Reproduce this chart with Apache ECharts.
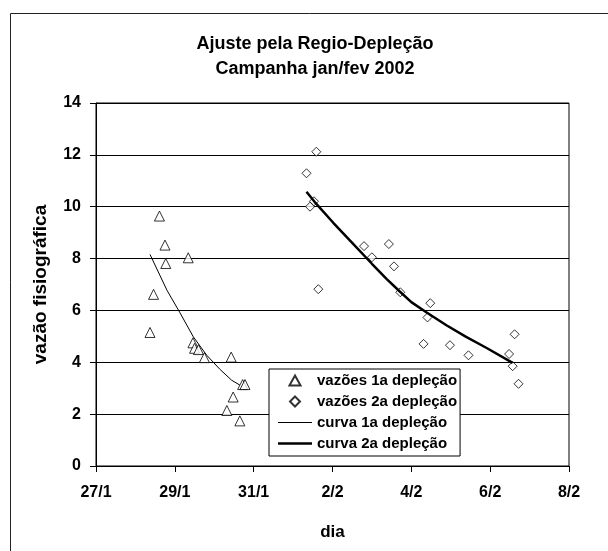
<!DOCTYPE html>
<html>
<head>
<meta charset="utf-8">
<script src="https://cdn.jsdelivr.net/npm/echarts@6/dist/echarts.min.js"></script>
<style>
  html, body { margin: 0; padding: 0; background: #fff; }
  #chart { width: 608px; height: 551px; }
</style>
</head>
<body>
<div id="chart"></div>
<script>
// dias contados a partir de 27/1
const dayLabels = ['27/1', '29/1', '31/1', '2/2', '4/2', '6/2', '8/2']

// vazões observadas 1a depleção [dia, vazão]
const vazoes1 = [
  [1.37, 5.15], [1.46, 6.62], [1.61, 9.64], [1.75, 8.52], [1.77, 7.81],
  [2.34, 8.03], [2.46, 4.75], [2.50, 4.54], [2.60, 4.49], [2.75, 4.18],
  [3.32, 2.14], [3.43, 4.20], [3.48, 2.66], [3.65, 1.74], [3.72, 3.14],
  [3.78, 3.14]
]

// vazões observadas 2a depleção
const vazoes2 = [
  [5.34, 11.29], [5.43, 10.0], [5.53, 10.21], [5.59, 12.12], [5.64, 6.82],
  [6.80, 8.48], [7.00, 8.05], [7.43, 8.56], [7.56, 7.70], [7.72, 6.70],
  [8.31, 4.71], [8.41, 5.73], [8.48, 6.28], [8.98, 4.66], [9.45, 4.27],
  [10.48, 4.32], [10.57, 3.85], [10.62, 5.08], [10.72, 3.17]
]

// curvas ajustadas
const curva1 = [
  [1.37, 8.16], [1.80, 6.78], [2.13, 5.91], [2.47, 4.98], [2.81, 4.27],
  [3.15, 3.72], [3.44, 3.31], [3.65, 3.12]
]

const curva2 = [
  [5.34, 10.58], [5.55, 10.18], [6.02, 9.38], [6.44, 8.70], [7.00, 7.80],
  [7.37, 7.22], [7.70, 6.74], [8.0, 6.32], [8.38, 5.93], [8.89, 5.43],
  [9.39, 4.98], [9.90, 4.56], [10.57, 3.98]
]

const font = 'Arial, "Liberation Sans", sans-serif'

const chart = echarts.init(document.getElementById('chart'))

const option = {
  backgroundColor: '#fff',
  animation: false,
  title: {
    text: 'Ajuste pela Regio-Depleção\nCampanha jan/fev 2002',
    left: 315,
    top: 32,
    padding: 0,
    textAlign: 'center',
    textVerticalAlign: 'top',
    textStyle: {
      fontFamily: font,
      fontSize: 18,
      fontWeight: 'bold',
      color: '#000',
      lineHeight: 25
    }
  },
  graphic: [
    {
      type: 'rect',
      shape: { x: 10.5, y: 13.5, width: 620, height: 560 },
      style: { fill: 'none', stroke: '#222', lineWidth: 1 },
      silent: true
    }
  ],
  legend: {
    orient: 'vertical',
    left: 269,
    top: 369,
    padding: [4, 3, 5, 9],
    itemWidth: 34,
    itemHeight: 10,
    itemGap: 6,
    symbolKeepAspect: true,
    backgroundColor: '#fff',
    borderColor: '#000',
    borderWidth: 1,
    borderRadius: 0,
    textStyle: {
      fontFamily: font,
      fontSize: 15,
      fontWeight: 'bold',
      color: '#000'
    },
    data: [
      { name: 'vazões 1a depleção', icon: 'path://M5,0 L10,9 L0,9 Z' },
      { name: 'vazões 2a depleção', icon: 'path://M4.5,0 L9,4.5 L4.5,9 L0,4.5 Z' },
      { name: 'curva 1a depleção', icon: 'path://M0,0 L34,0 L34,1 L0,1 Z', itemStyle: { color: '#000', borderWidth: 0 } },
      { name: 'curva 2a depleção', icon: 'path://M0,0 L34,0 L34,2.5 L0,2.5 Z', itemStyle: { color: '#000', borderWidth: 0 } }
    ]
  },
  grid: {
    left: 96,
    right: 39,
    top: 103,
    bottom: 85,
    show: true,
    borderColor: '#000',
    borderWidth: 1,
    backgroundColor: '#fff'
  },
  xAxis: {
    type: 'value',
    min: 0,
    max: 12,
    interval: 2,
    name: 'dia',
    nameLocation: 'middle',
    nameGap: 58,
    nameTextStyle: { fontFamily: font, fontSize: 17, fontWeight: 'bold', color: '#000' },
    axisLine: { lineStyle: { color: '#000', width: 1 } },
    axisTick: { show: true, inside: false, length: 6, lineStyle: { color: '#000' } },
    axisLabel: {
      margin: 19,
      fontFamily: font,
      fontSize: 16,
      fontWeight: 'bold',
      color: '#000',
      formatter: v => dayLabels[v / 2]
    },
    splitLine: { show: false }
  },
  yAxis: {
    type: 'value',
    min: 0,
    max: 14,
    interval: 2,
    name: 'vazão fisiográfica',
    nameLocation: 'middle',
    nameGap: 46,
    nameTextStyle: { fontFamily: font, fontSize: 19, fontWeight: 'bold', color: '#000' },
    axisLine: { show: true, lineStyle: { color: '#000', width: 1 } },
    axisTick: { show: true, inside: false, length: 6, lineStyle: { color: '#000' } },
    axisLabel: {
      margin: 15,
      fontFamily: font,
      fontSize: 16,
      fontWeight: 'bold',
      color: '#000'
    },
    splitLine: { show: true, lineStyle: { color: '#000', width: 1 } }
  },
  series: [
    {
      name: 'vazões 1a depleção',
      type: 'scatter',
      symbol: 'triangle',
      symbolSize: 10,
      itemStyle: { color: '#fff', borderColor: '#000', borderWidth: 1 },
      data: vazoes1
    },
    {
      name: 'vazões 2a depleção',
      type: 'scatter',
      symbol: 'diamond',
      symbolSize: 9,
      itemStyle: { color: '#fff', borderColor: '#000', borderWidth: 1 },
      data: vazoes2
    },
    {
      name: 'curva 1a depleção',
      type: 'line',
      symbol: 'none',
      showSymbol: false,
      itemStyle: { color: '#000' },
      lineStyle: { color: '#000', width: 1 },
      data: curva1
    },
    {
      name: 'curva 2a depleção',
      type: 'line',
      symbol: 'none',
      showSymbol: false,
      itemStyle: { color: '#000' },
      lineStyle: { color: '#000', width: 2.5 },
      data: curva2
    }
  ]
}

chart.setOption(option)
</script>
</body>
</html>
